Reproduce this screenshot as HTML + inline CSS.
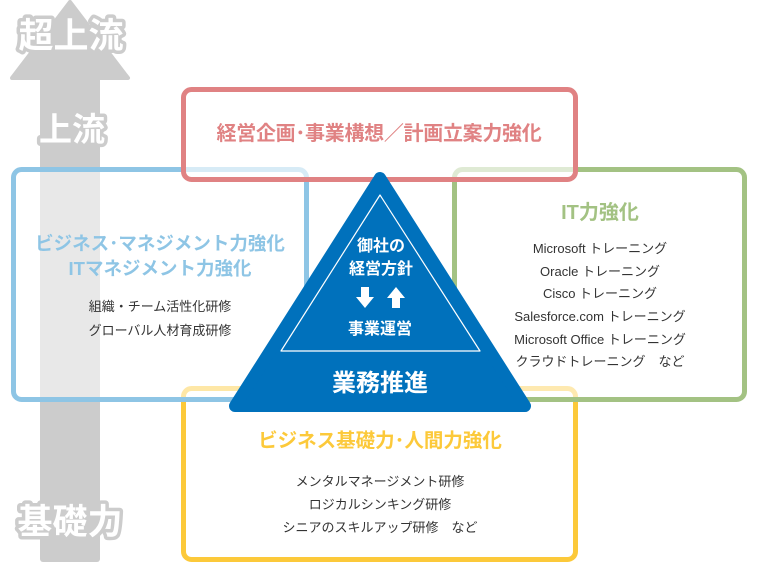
<!DOCTYPE html>
<html><head><meta charset="utf-8"><style>
html,body{margin:0;padding:0;background:#fff}
svg{display:block}
text{font-family:"Liberation Sans","Noto Sans CJK JP",sans-serif}
</style></head><body>
<svg width="760" height="564" viewBox="0 0 760 564" xmlns="http://www.w3.org/2000/svg">
<!-- gray arrow -->
<polygon points="70,2 128,78 12,78" fill="#cccccc" stroke="#cccccc" stroke-width="4" stroke-linejoin="round"/>
<rect x="40" y="76" width="60" height="486" rx="3" fill="#cccccc"/>
<g font-weight="bold" text-anchor="middle" font-size="35" fill="#fff" stroke="#cccccc" stroke-width="7" stroke-linejoin="round" paint-order="stroke">
<text x="71" y="48">超上流</text>
<text x="72" y="141" font-size="33">上流</text>
<text x="70" y="534">基礎力</text>
</g>
<!-- yellow box -->
<rect x="183.5" y="388.5" width="392" height="171" rx="8" fill="#fff" fill-opacity="0.7" stroke="#fcc93a" stroke-width="5"/>
<!-- blue box -->
<rect x="13.5" y="169.5" width="293" height="230" rx="8" fill="#fff" fill-opacity="0.55" stroke="#8ec5e5" stroke-width="5"/>
<!-- green box -->
<rect x="454.5" y="169.5" width="290" height="230" rx="8" fill="#fff" fill-opacity="0.6" stroke="#a3c283" stroke-width="5"/>
<!-- red box -->
<rect x="183.5" y="89.5" width="392" height="90" rx="8" fill="#fff" fill-opacity="0.65" stroke="#e08283" stroke-width="5"/>
<!-- triangle -->
<polygon points="380,178 525,406 235,406" fill="#0071bc" stroke="#0071bc" stroke-width="12" stroke-linejoin="round"/>
<polygon points="380,195 480,351 281,351" fill="none" stroke="#fff" stroke-width="1.2" stroke-linejoin="round"/>
<g fill="#fff" font-weight="bold" text-anchor="middle">
<text x="381" y="251" font-size="16">御社の</text>
<text x="381" y="274" font-size="16">経営方針</text>
<text x="380" y="334" font-size="16">事業運営</text>
<text x="380" y="391" font-size="24">業務推進</text>
<polygon points="361,287 369,287 369,297 374,297 365,308 356,297 361,297"/>
<polygon points="392,308 400,308 400,298 405,298 396,287 387,298 392,298"/>
</g>
<!-- titles -->
<g font-weight="bold" text-anchor="middle">
<text x="379" y="140" font-size="20" fill="#e08283" letter-spacing="-0.3">経営企画･事業構想／計画立案力強化</text>
<text x="160" y="250" font-size="18.5" fill="#8ec5e5">ビジネス･マネジメント力強化</text>
<text x="160" y="275" font-size="18.5" fill="#8ec5e5">ITマネジメント力強化</text>
<text x="600" y="219" font-size="20" fill="#a3c283">IT力強化</text>
<text x="380" y="447" font-size="19.5" fill="#fcc93a">ビジネス基礎力･人間力強化</text>
</g>
<g font-size="13" fill="#333" text-anchor="middle">
<text x="160" y="311">組織・チーム活性化研修</text>
<text x="160" y="335">グローバル人材育成研修</text>
<text x="600" y="253">Microsoft トレーニング</text>
<text x="600" y="276">Oracle トレーニング</text>
<text x="600" y="298">Cisco トレーニング</text>
<text x="600" y="321">Salesforce.com トレーニング</text>
<text x="600" y="344">Microsoft Office トレーニング</text>
<text x="600" y="366">クラウドトレーニング　など</text>
<text x="380" y="486">メンタルマネージメント研修</text>
<text x="380" y="509">ロジカルシンキング研修</text>
<text x="380" y="532">シニアのスキルアップ研修　など</text>
</g>
</svg>
</body></html>
